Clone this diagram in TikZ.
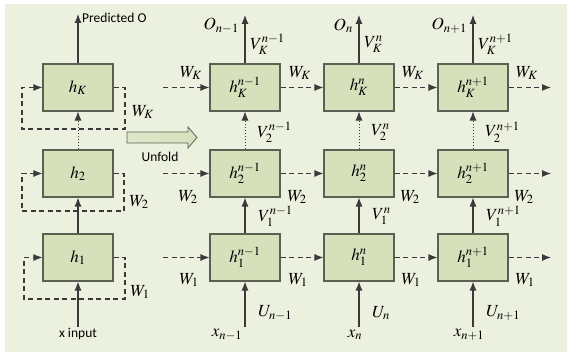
\documentclass[tikz,border=0pt]{standalone}
\usepackage{mathptmx}
\usepackage[no-math]{fontspec}
\newfontfamily\labelfont{Carlito}
\usetikzlibrary{arrows.meta, calc, positioning}

\definecolor{bgcol}{HTML}{EBF1DE}
\definecolor{boxfill}{HTML}{D6E1BC}
\definecolor{boxline}{HTML}{5C6052}
\definecolor{linecol}{HTML}{3A3A3A}

\begin{document}
\begin{tikzpicture}[x=1pt, y=-1pt, >={Latex[length=9pt,width=7pt]},
    cell/.style={draw=boxline, fill=boxfill, line width=1.1pt, minimum width=70pt,
        minimum height=47pt, inner sep=0pt, font=\fontsize{17}{20}\selectfont},
    lbl/.style={font=\fontsize{17}{20}\selectfont, inner sep=1pt},
    txt/.style={font=\labelfont\fontsize{13.5}{16}\selectfont, inner sep=1pt},
    rec/.style={dash pattern=on 5pt off 3.5pt, line width=1.1pt, draw=linecol},
    feed/.style={line width=1.1pt, draw=linecol},
    skip/.style={line width=0.8pt, draw=linecol, dash pattern=on 1pt off 2pt}]

    % page and background
    \fill[white] (0,0) rectangle (567,352);
    \fill[bgcol] (5,4) rectangle (567,352);

    % folded network
    \node[cell] (lK) at (78,87.5) {$h_K$};
    \node[cell] (l2) at (78,173.5) {$h_2$};
    \node[cell] (l1) at (78,257.5) {$h_1$};

    \coordinate (pred) at (78,14);
    \node[txt, anchor=west] (predO) at (81,18) {Predicted O};
    \node[txt] (xin) at (78,334) {x input};

    \draw[feed, ->] (lK) -- (pred);
    \draw[skip, ->] (l2) -- (lK);
    \draw[feed, ->] (l1) -- (l2);
    \draw[feed, ->] (xin) -- (l1);

    \draw[rec, ->] (lK.east) -- (125,87.5) -- (125,129) -- (22,129) -- (22,87.5) -- (lK.west);
    \draw[rec, ->] (l2.east) -- (124,173.5) -- (124,211) -- (22,211) -- (22,173.5) -- (l2.west);
    \draw[rec, ->] (l1.east) -- (125,257.5) -- (125,299) -- (24,299) -- (24,257.5) -- (l1.west);

    \node[lbl] (wlK) at (143,112) {$W_K$};
    \node[lbl] (wl2) at (139,202) {$W_2$};
    \node[lbl] (wl1) at (140,292) {$W_1$};

    % unfold arrow
    \draw[boxline, line width=0.8pt, left color=boxfill!60!bgcol, right color=boxfill]
        (127,132) -- (188,132) -- (188,127) -- (197,137.5) -- (188,148) -- (188,143) -- (127,143) -- cycle;
    \node[txt] (unfold) at (160,157) {Unfold};

    % unfolded network
    \foreach \c/\x/\tm/\dx in {a/245/{n-1}/-18, b/359/n/-4, c/473/{n+1}/-4} {
        \node[cell] (\c K) at (\x,87.5) {$h_K^{\tm}$};
        \node[cell] (\c 2) at (\x,173.5) {$h_2^{\tm}$};
        \node[cell] (\c 1) at (\x,257.5) {$h_1^{\tm}$};

        \coordinate (\c top) at (\x,15);
        \coordinate (\c bot) at (\x,327);
        \draw[feed, ->] (\c K) -- (\c top);
        \draw[skip, ->] (\c 2) -- (\c K);
        \draw[feed, ->] (\c 1) -- (\c 2);
        \draw[feed, ->] (\c bot) -- (\c 1);

        \node[lbl, anchor=east] (\c O) at (\x-5,26) {$O_{\tm}$};
        \node[lbl, anchor=west] (\c vK) at (\x+4,44) {$V_K^{\tm}$};
        \node[lbl, anchor=west] (\c v2) at (\x+11,132) {$V_2^{\tm}$};
        \node[lbl, anchor=west] (\c v1) at (\x+12,216) {$V_1^{\tm}$};
        \node[lbl, anchor=west] (\c u) at (\x+12,313) {$U_{\tm}$};
        \node[lbl] (\c x) at (\x+\dx,335) {$x_{\tm}$};
    }

    % recurrent links
    \foreach \r/\y in {K/87.5, 2/173.5, 1/257.5} {
        \coordinate (s\r) at (163,\y);
        \coordinate (e\r) at (551,\y);
        \draw[rec, ->] (s\r) -- (a\r);
        \draw[rec, ->] (a\r) -- (b\r);
        \draw[rec, ->] (b\r) -- (c\r);
        \draw[rec, ->] (c\r) -- (e\r);
    }
    \foreach \x [count=\i] in {191, 300, 413, 527} {
        \node[lbl] (wK\i) at (\x,73) {$W_K$};
        \node[lbl] (w2\i) at (\x-3,197) {$W_2$};
        \node[lbl] (w1\i) at (\x-2,280) {$W_1$};
    }
\end{tikzpicture}
\end{document}
